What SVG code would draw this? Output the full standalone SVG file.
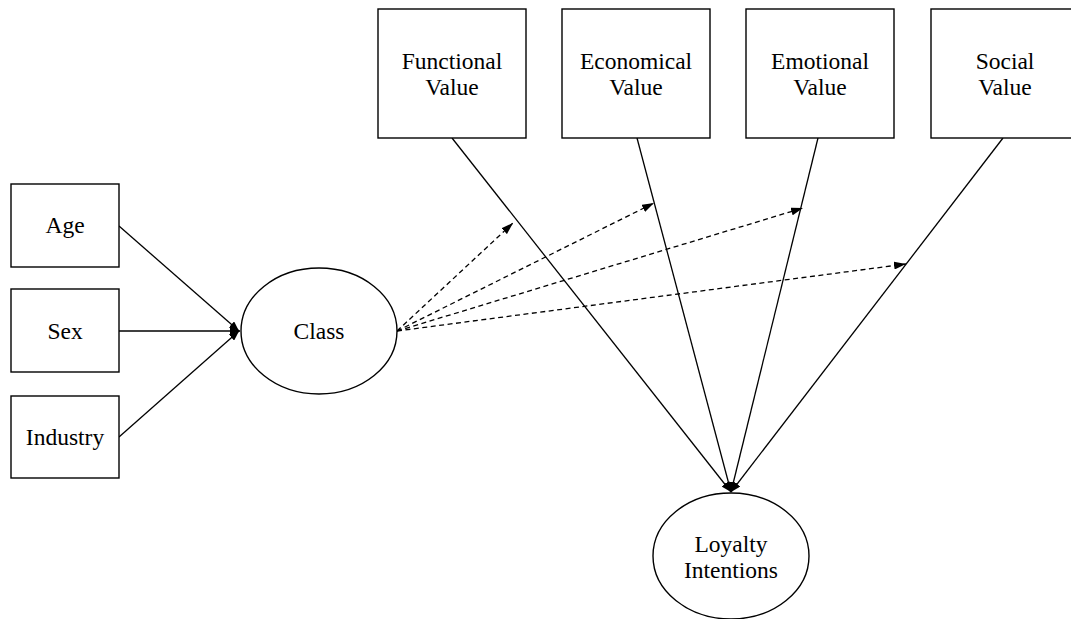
<svg xmlns="http://www.w3.org/2000/svg" width="1071" height="619" viewBox="0 0 1071 619">
<style>
.box{fill:#fff;stroke:#000;stroke-width:1.4}
.t{font-family:"Liberation Serif","Times New Roman",serif;font-size:23.5px;fill:#000;text-anchor:middle}
.s{fill:none;stroke:#000;stroke-width:1.3}
.d{fill:none;stroke:#000;stroke-width:1.3;stroke-dasharray:5,3.5}
</style>
<defs>
<marker id="ah" viewBox="0 0 10 8" refX="10" refY="4" markerWidth="10" markerHeight="8" markerUnits="userSpaceOnUse" orient="auto">
<path d="M0,0 L10,4 L0,8 Z" fill="#000"/>
</marker>
<marker id="ahd" viewBox="0 0 12 8" refX="12" refY="4" markerWidth="12" markerHeight="8" markerUnits="userSpaceOnUse" orient="auto">
<path d="M0,0 L12,4 L0,8 Z" fill="#000"/>
</marker>
</defs>
<rect width="1071" height="619" fill="#fff"/>
<g id="connectors">
<line class="s" x1="119" y1="226" x2="239" y2="331" marker-end="url(#ah)"/>
<line class="s" x1="119" y1="331" x2="240" y2="331" marker-end="url(#ah)"/>
<line class="s" x1="119" y1="437" x2="239" y2="331" marker-end="url(#ah)"/>
<line class="s" x1="452" y1="138" x2="731" y2="492" marker-end="url(#ah)"/>
<line class="s" x1="637" y1="138" x2="731" y2="492" marker-end="url(#ah)"/>
<line class="s" x1="818" y1="138" x2="731" y2="492" marker-end="url(#ah)"/>
<line class="s" x1="1003" y1="138" x2="731" y2="492" marker-end="url(#ah)"/>
<line class="d" x1="397" y1="331" x2="513" y2="223" marker-end="url(#ahd)"/>
<line class="d" x1="397" y1="331" x2="654" y2="203" marker-end="url(#ahd)"/>
<line class="d" x1="397" y1="331" x2="803" y2="208" marker-end="url(#ahd)"/>
<line class="d" x1="397" y1="331" x2="906" y2="264" marker-end="url(#ahd)"/>
</g>
<g id="age"><rect class="box" x="11" y="184" width="108" height="83"/><text class="t" x="65" y="233">Age</text></g>
<g id="sex"><rect class="box" x="11" y="289" width="108" height="83"/><text class="t" x="65" y="339">Sex</text></g>
<g id="industry"><rect class="box" x="11" y="396" width="108" height="82"/><text class="t" x="65" y="445">Industry</text></g>
<g id="class"><ellipse class="box" cx="319" cy="331" rx="78" ry="63"/><text class="t" x="319" y="339">Class</text></g>
<g id="functional"><rect class="box" x="378" y="9" width="148" height="129"/><text class="t" x="452" y="69">Functional</text><text class="t" x="452" y="95">Value</text></g>
<g id="economical"><rect class="box" x="562" y="9" width="148" height="129"/><text class="t" x="636" y="69">Economical</text><text class="t" x="636" y="95">Value</text></g>
<g id="emotional"><rect class="box" x="746" y="9" width="148" height="129"/><text class="t" x="820" y="69">Emotional</text><text class="t" x="820" y="95">Value</text></g>
<g id="social"><rect class="box" x="931" y="9" width="148" height="129"/><text class="t" x="1005" y="69">Social</text><text class="t" x="1005" y="95">Value</text></g>
<g id="loyalty"><ellipse class="box" cx="731" cy="556" rx="78" ry="63"/><text class="t" x="731" y="552">Loyalty</text><text class="t" x="731" y="578">Intentions</text></g>
</svg>
